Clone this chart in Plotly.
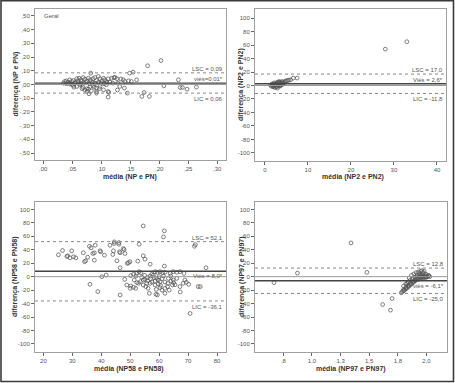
import plotly.graph_objects as go

# ---------------- data ----------------
# Panel 1: NP e PN (Geral)
p1_x = [0.037,0.040,0.043,0.046,0.049,0.052,0.055,0.058,0.060,0.062,0.065,0.066,0.069,0.072,0.075,0.078,0.081,0.083,0.086,0.089,0.092,0.095,0.098,0.101,0.104,0.106,0.109,0.112,0.118,0.124,0.127,
        0.046,0.052,0.058,0.063,0.069,0.075,0.081,0.086,0.092,0.098,0.104,0.109,0.112,0.092,0.083,0.078,
        0.035,0.040,0.045,0.050,0.055,0.060,0.065,0.070,0.074,0.080,0.085,0.090,0.095,0.100,0.105,0.110,0.115,0.120,0.053,0.067,0.072,0.076,0.079,0.088,0.097,
        0.129,0.132,0.138,0.141,0.147,0.152,0.161,0.170,0.183,0.145,0.112,0.082,0.149,0.155,0.180,0.203,0.233,0.208,0.236,0.240,0.248,0.264,0.174,0.140,0.122,0.113,0.092,0.128,0.134]
p1_y = [0.022,0.027,0.017,0.034,0.022,0.029,0.015,0.042,0.027,0.046,0.034,0.022,0.051,0.039,0.027,0.046,0.034,0.022,0.042,0.051,0.029,0.059,0.042,0.027,0.046,0.034,0.022,0.042,0.046,0.051,0.042,
        0.003,-0.007,-0.014,-0.002,-0.022,-0.031,-0.014,-0.007,-0.027,-0.014,-0.039,-0.002,-0.051,-0.051,-0.046,-0.034,
        0.010,0.005,0.012,0.000,0.008,0.012,0.005,0.010,0.015,0.005,0.012,0.008,0.015,0.010,0.005,0.012,0.017,0.010,-0.020,-0.030,-0.040,-0.050,-0.068,-0.020,-0.030,
        0.010,-0.014,0.034,0.022,0.027,0.022,0.034,-0.087,-0.087,-0.063,-0.092,0.083,0.083,0.090,0.137,0.175,0.034,-0.010,-0.022,-0.022,-0.034,-0.019,-0.058,-0.026,0.051,-0.058,-0.063,-0.040,0.040]

# Panel 2: NP2 e PN2
p2_x = [1.3,1.5,1.6,1.8,1.9,2.0,2.1,2.2,2.3,2.4,2.5,2.6,2.7,2.8,2.9,3.0,3.1,3.2,3.3,3.4,3.5,3.6,3.7,3.8,3.9,4.0,4.1,4.3,4.5,4.7,5.0,5.3,5.6,6.0,6.6,7.5,2.0,2.5,3.0,3.5,2.2,1.7,2.8,3.3,4.2,28.0,33.0]
p2_y = [0.5,-1,1.5,0,-2,1,2.5,-0.5,-3,0.8,3,-1.5,1.8,4,-4,2,0,4.5,1,-1,3,5,2,0.5,4,6,1.5,3,5,6.5,7,7.5,8,8.5,11,11,-1,1,5,-0.5,4,2.5,-2,6,4,54,65]

# Panel 3: NP58 e PN58
p3_x = [25.2,26.6,28.1,29.2,29.8,28.4,30.4,31.2,33.8,34.2,34.6,35.9,36.5,35.3,37.1,37.6,37.9,37.6,39.6,39.8,41.1,43.0,44.0,44.2,44.5,44.5,46.1,46.1,46.3,46.5,45.4,47.6,47.9,48.2,49.4,49.9,49.0,46.5,53.1,52.6,54.5,55.1,56.9,61.8,76.2,54.5,61.8,61.5,72.5,72.2,
        50.2,51.1,52.3,53.1,53.7,51.4,52.3,52.9,53.5,50.2,51.1,51.9,54.5,55.1,55.9,56.9,57.4,54.5,55.4,56.2,55.7,58.6,59.4,60.3,61.2,62.0,58.3,59.1,59.7,58.6,60.3,56.9,58.6,59.7,56.6,58.9,59.4,62.0,60.3,62.0,
        63.8,64.9,66.1,67.2,68.6,63.2,64.1,64.9,66.1,64.6,62.9,67.2,68.9,69.4,68.3,70.2,73.5,48.8,50.0,36.1,38.8,40.2,41.7,46.5,48.1,70.7,67.3,74.2,
        57.0,58.0,60.0,61.0,62.0,63.0,65.0,56.0,55.0,57.5,59.0,61.0,63.5,65.5,60.5,52.0,54.0,61.5,64.0]
p3_y = [32.5,38.9,30.0,28.0,38.4,31.0,29.6,28.0,35.5,22.2,23.6,45.2,42.9,29.0,34.4,35.5,46.7,24.5,38.4,37.0,32.0,46.7,33.0,38.4,51.7,49.2,50.7,48.2,37.0,35.5,23.6,41.8,40.4,34.4,20.7,22.2,19.7,13.3,48.2,23.1,31.0,26.0,18.6,15.7,13.3,75.4,68.0,59.1,47.7,45.2,
        1.5,3.4,4.9,7.4,5.9,-5.0,-8.9,-9.9,-7.4,-13.9,-15.8,-17.3,-5.0,-4.0,-1.5,0.9,3.4,-12.4,-14.8,-17.3,-9.9,7.4,6.4,7.4,5.9,6.4,-1.5,-2.5,-5.0,-6.5,-7.4,-9.9,-12.4,-10.9,-24.7,-26.2,-27.2,-24.7,-16.3,-17.3,
        4.9,7.4,6.4,7.4,4.9,-2.5,-6.5,-5.0,-2.5,-12.4,-14.8,-14.8,-5.0,-8.4,-9.9,-11.4,-14.8,-12.4,-17.3,-11.4,-22.2,0.0,2.4,-27.2,-4.0,-54.7,-22.7,-14.8,
        -3.0,2.0,0.0,-3.0,-8.0,-10.0,-9.0,-6.0,2.0,-8.0,-19.0,-20.0,-20.0,-12.0,-13.0,1.0,-1.0,1.0,1.0]

# Panel 4: NP97 e PN97
p4_x = [0.668,0.873,1.341,1.480,1.618,1.686,1.700,
        1.78,1.79,1.80,1.80,1.81,1.82,1.82,1.83,1.84,1.84,1.85,1.86,1.86,1.87,1.88,1.88,1.89,1.90,1.90,1.91,1.92,1.92,1.93,1.93,1.94,1.94,1.95,1.95,1.96,1.96,1.97,1.97,1.98,1.98,1.99,1.99,2.00,2.00,2.01,2.02,2.03,
        1.87,1.89,1.91,1.93,1.95,1.96,1.97,1.98,1.99,1.94,1.92,1.90,1.88,1.86,1.84,1.82,1.85,1.94,1.96,2.00,2.02,1.80,1.83]
p4_y = [-8.9,5.3,50.2,6.4,-41.4,-49.8,-32.5,
        -24,-22,-21,-19,-20,-18,-16,-17,-15,-13,-14,-12,-10,-11,-9,-7,-8,-6,-4,-5,-3,-1,-4,-2,-1,0,-2,1,-1,0,-2,1,-1,0,-1,1,0,-1,0,1,0,
        2,4,6,7,8,9,6,8,4,3,2,-1,-3,-5,-8,-11,-2,5,3,3,2,-14,-10]

# reference lines: LSC, viés, LIC
lsc  = [0.085, 17.0, 52.1, 12.8]
bias = [0.01, 2.6, 8.0, -6.1]
lic  = [-0.063, -11.8, -36.1, -25.0]
lsc_txt  = ["LSC = 0,09", "LSC = 17,0", "LSC = 52,1", "LSC = 12,8"]
bias_txt = ["viés=0,01*", "Viés = 2,6*", "Viés = 8,0*", "viés = -6,1*"]
lic_txt  = ["LIC = 0,06", "LIC = -11,8", "LIC = -36,1", "LIC = -25,0"]

# ticks
p1_xt = [0.0,0.05,0.10,0.15,0.20,0.25,0.30]
p1_xl = [",00",",05",",10",",15",",20",",25",",30"]
p1_yt = [0.5,0.4,0.3,0.2,0.1,0.0,-0.1,-0.2,-0.3,-0.4,-0.5]
p1_yl = [",50",",40",",30",",20",",10",",00","-,10","-,20","-,30","-,40","-,50"]
p2_xt = [0,10,20,30,40]
p2_xl = ["0","10","20","30","40"]
big_yt = [100,80,60,40,20,0,-20,-40,-60,-80,-100]
big_yl = ["100","80","60","40","20","0","-20","-40","-60","-80","-100"]
p3_xt = [20,30,40,50,60,70,80]
p3_xl = ["20","30","40","50","60","70","80"]
p4_xt = [0.75,1.0,1.25,1.5,1.75,2.0]
p4_xl = [",8","1,0","1,3","1,5","1,8","2,0"]

xtitles = ["média (NP e PN)", "média (NP2 e PN2)", "média (NP58 e PN58)", "média (NP97 e PN97)"]
ytitles = ["diferença (NP e PN)", "diferença (NP2 e PN2)", "diferença (NP58 e PN58)", "diferença (NP97 e PN97)"]

# ---------------- layout geometry ----------------
W, H = 455, 383
def px2x(p): return p / W
def px2y(p): return 1 - p / H

panels = [
    dict(x=(35, 226), y=(9, 160), xr=[-0.014, 0.315], yr=[-0.551, 0.551], xt=p1_xt, xl=p1_xl, yt=p1_yt, yl=p1_yl,
         data=(p1_x, p1_y), ytx=15, xty=177, xtx=130),
    dict(x=(255, 446), y=(9, 161), xr=[-2.3, 42.1], yr=[-112, 113.5], xt=p2_xt, xl=p2_xl, yt=big_yt, yl=big_yl,
         data=(p2_x, p2_y), ytx=241, xty=177, xtx=353),
    dict(x=(35, 226), y=(202, 352), xr=[17.1, 83.1], yr=[-112, 111], xt=p3_xt, xl=p3_xl, yt=big_yt, yl=big_yl,
         data=(p3_x, p3_y), ytx=15, xty=369, xtx=129),
    dict(x=(255, 447), y=(202, 352), xr=[0.502, 2.18], yr=[-112, 111], xt=p4_xt, xl=p4_xl, yt=big_yt, yl=big_yl,
         data=(p4_x, p4_y), ytx=242, xty=369, xtx=351),
]

bias_anchor = ["bottom", "bottom", "top", "top"]

fig = go.Figure()
shapes = []
annotations = []
FONT = "Liberation Sans, Arial, sans-serif"
tickfont = dict(family=FONT, size=6, color="#555")
labfont = dict(family=FONT, size=6, color="#555")
titlefont = dict(family=FONT, size=7, color="#333")

layout = dict(width=W, height=H, margin=dict(l=0, r=0, t=0, b=0), showlegend=False,
              paper_bgcolor="white", plot_bgcolor="white")

for i, p in enumerate(panels):
    n = "" if i == 0 else str(i + 1)
    xa, ya = "x" + n, "y" + n
    axcommon = dict(showline=True, mirror=True, linecolor="#a0a0a0", linewidth=1, ticks="outside",
                    ticklen=3, tickcolor="#666", tickwidth=1, showgrid=False, zeroline=False,
                    tickfont=tickfont, tickmode="array", fixedrange=True)
    layout["xaxis" + n] = dict(axcommon, domain=[px2x(p["x"][0]), px2x(p["x"][1])], range=p["xr"],
                               tickvals=p["xt"], ticktext=p["xl"], anchor=ya)
    layout["yaxis" + n] = dict(axcommon, domain=[px2y(p["y"][1]), px2y(p["y"][0])], range=p["yr"],
                               tickvals=p["yt"], ticktext=p["yl"], anchor=xa)
    xs, ys = p["data"]
    fig.add_trace(go.Scatter(x=xs, y=ys, mode="markers", xaxis=xa, yaxis=ya, cliponaxis=True,
                             hoverinfo="skip",
                             marker=dict(symbol="circle-open", size=3.8, color="#555",
                                         line=dict(width=0.75, color="#555"))))
    xd = xa + " domain"
    shapes.append(dict(type="line", xref=xd, yref=ya, x0=0, x1=1, y0=0, y1=0,
                       line=dict(color="#9a9a9a", width=1)))
    shapes.append(dict(type="line", xref=xd, yref=ya, x0=0, x1=1, y0=bias[i], y1=bias[i],
                       line=dict(color="#444", width=1.4)))
    for v in (lsc[i], lic[i]):
        shapes.append(dict(type="line", xref=xd, yref=ya, x0=0, x1=1, y0=v, y1=v,
                           line=dict(color="#888", width=1, dash="dot")))
    annotations.append(dict(xref=xd, yref=ya, x=1, y=lsc[i], xanchor="right", yanchor="bottom",
                            xshift=-1, yshift=-1, text=lsc_txt[i], showarrow=False, font=labfont))
    annotations.append(dict(xref=xd, yref=ya, x=1, y=bias[i], xanchor="right", yanchor=bias_anchor[i],
                            xshift=-1, yshift=(-1 if bias_anchor[i] == "bottom" else 0), text=bias_txt[i],
                            showarrow=False, font=labfont))
    annotations.append(dict(xref=xd, yref=ya, x=1, y=lic[i], xanchor="right", yanchor="top",
                            xshift=-1, yshift=-1, text=lic_txt[i], showarrow=False, font=labfont))
    annotations.append(dict(xref="paper", yref="paper", x=px2x(p["xtx"]), y=px2y(p["xty"]),
                            xanchor="center", yanchor="middle", text="<b>" + xtitles[i] + "</b>",
                            showarrow=False, font=titlefont))
    annotations.append(dict(xref="paper", yref="paper", x=px2x(p["ytx"]),
                            y=px2y((p["y"][0] + p["y"][1]) / 2), xanchor="center", yanchor="middle",
                            text="<b>" + ytitles[i] + "</b>", textangle=-90, showarrow=False, font=titlefont))

annotations.append(dict(xref="x domain", yref="y domain", x=0.035, y=0.985, xanchor="left", yanchor="top",
                        text="Geral", showarrow=False, font=labfont))

shapes.append(dict(type="rect", xref="paper", yref="paper", x0=px2x(1), x1=px2x(453.5), y0=px2y(381.5), y1=px2y(0.8),
                   line=dict(color="#3a3a3a", width=1.6), fillcolor="rgba(0,0,0,0)"))

layout["shapes"] = shapes
layout["annotations"] = annotations
fig.update_layout(**layout)
fig.write_html("out.html", config={"displayModeBar": False},
               post_script="document.body.style.margin='0px';document.body.style.overflow='hidden';")
